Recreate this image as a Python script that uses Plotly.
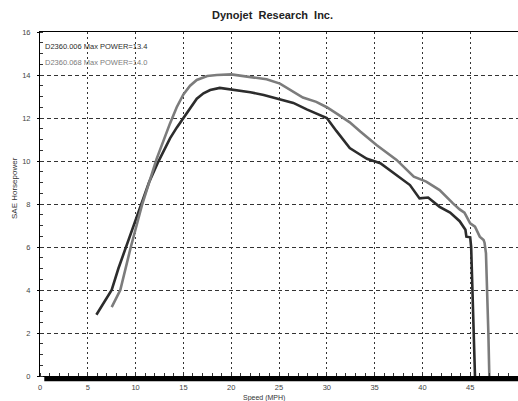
import plotly.graph_objects as go

# ---- data ----
run_names = ["D2360.006", "D2360.068"]
max_power = [13.4, 14.0]

speed_006 = [5.9, 6.7, 7.5, 8.2, 9.0, 9.8, 10.6, 11.4, 12.3, 13.0, 13.6, 14.3, 15.0, 15.7, 16.4,
             17.1, 17.8, 18.8, 20.0, 21.0, 22.0, 23.4, 25.1, 26.5, 27.9, 28.9, 30.0, 31.0, 32.4,
             33.3, 34.2, 35.6, 37.0, 38.7, 39.7, 40.6, 41.8, 42.9, 43.9, 44.5, 44.6, 45.0, 45.1,
             45.2, 45.3, 45.4, 45.5]
hp_006 = [2.85, 3.4, 4.0, 5.0, 6.0, 7.0, 8.0, 9.0, 9.9, 10.55, 11.05, 11.55, 12.0, 12.5, 12.9,
          13.15, 13.3, 13.4, 13.33, 13.27, 13.2, 13.07, 12.85, 12.7, 12.4, 12.2, 12.0, 11.4, 10.6,
          10.35, 10.1, 9.9, 9.42, 8.88, 8.26, 8.3, 7.87, 7.6, 7.2, 6.8, 6.48, 6.45, 6.0,
          4.6, 3.07, 1.2, 0.0]

speed_068 = [7.5, 8.4, 9.5, 10.7, 12.2, 12.9, 13.6, 14.3, 15.0, 15.7, 16.4, 17.5, 18.5, 20.0,
             21.0, 22.0, 23.7, 25.1, 26.5, 27.5, 28.9, 30.0, 31.4, 32.4, 33.5, 35.2, 37.3, 39.1,
             40.4, 41.8, 43.2, 43.9, 44.4, 45.0, 45.5, 46.0, 46.4, 46.5, 46.65, 46.8, 46.9, 47.0]
hp_068 = [3.2, 4.0, 6.0, 8.0, 10.1, 10.95, 11.75, 12.5, 13.1, 13.5, 13.77, 13.95, 14.0, 14.03,
          13.97, 13.9, 13.8, 13.6, 13.2, 12.95, 12.75, 12.5, 12.1, 11.8, 11.37, 10.74, 10.05, 9.27,
          9.04, 8.65, 8.03, 7.75, 7.6, 7.1, 6.95, 6.48, 6.33, 6.2, 5.7, 3.7, 2.0, 0.0]

x_ticks = [0, 5, 10, 15, 20, 25, 30, 35, 40, 45, 50]
y_ticks = [0, 2, 4, 6, 8, 10, 12, 14, 16]

dark = "#2c2c2c"
gray = "#7c7c7c"
font = "Liberation Sans"

fig = go.Figure()
fig.add_trace(go.Scatter(x=speed_006, y=hp_006, mode="lines", name=run_names[0],
                         line=dict(color=dark, width=2.6), showlegend=False))
fig.add_trace(go.Scatter(x=speed_068, y=hp_068, mode="lines", name=run_names[1],
                         line=dict(color=gray, width=2.6), showlegend=False))

fig.update_layout(
    width=518, height=401,
    margin=dict(l=40, r=0, t=32, b=25, autoexpand=False),
    paper_bgcolor="white", plot_bgcolor="white",
    font=dict(family=font, size=8, color="#333"),
    showlegend=False,
)

fig.update_xaxes(
    range=[0, 50], tickvals=x_ticks, ticktext=[str(v) for v in x_ticks],
    showline=True, linecolor="black", linewidth=1, mirror=True,
    showgrid=True, gridcolor="#333", griddash="2px,3px", gridwidth=1,
    ticks="", ticklabelstandoff=4, zeroline=False, automargin=False,
    minor=dict(dtick=1, ticks="inside", ticklen=3, tickcolor="#333", showgrid=False),
    tickfont=dict(size=7.5, color="#444"),
)
fig.update_yaxes(
    range=[0, 16], tickvals=y_ticks, ticktext=[str(v) for v in y_ticks],
    showline=True, linecolor="black", linewidth=1,
    showgrid=True, gridcolor="#333", griddash="4px,3px", gridwidth=1,
    ticks="outside", ticklen=2, tickcolor="black", ticklabelstandoff=5,
    zeroline=False, automargin=False,
    minor=dict(dtick=0.5, ticks="inside", ticklen=3, tickcolor="#333", showgrid=False),
    tickfont=dict(size=7.5, color="#444"),
)

# thick run bar under the axis
fig.add_shape(type="rect", xref="paper", yref="paper",
              x0=0.45 / 50, x1=1.0, y0=-0.003, y1=-0.015,
              fillcolor="black", line=dict(width=0))

annotations = [
    dict(text="<b>Dynojet  Research  Inc.</b>", xref="paper", yref="paper",
         x=(272 - 40) / 478, y=1 + (32 - 15) / 344, xanchor="center", yanchor="middle",
         showarrow=False, font=dict(family=font, size=11, color="#222")),
    dict(text="Speed (MPH)", xref="paper", yref="paper",
         x=(264 - 40) / 478, y=-(398 - 376) / 344, xanchor="center", yanchor="middle",
         showarrow=False, font=dict(family=font, size=7, color="#333")),
    dict(text="SAE Horsepower", xref="paper", yref="paper", textangle=-90,
         x=-(40 - 14) / 478, y=(376 - 188) / 344, xanchor="center", yanchor="middle",
         showarrow=False, font=dict(family=font, size=8, color="#333")),
]
for i, (name, mp, col) in enumerate(zip(run_names, max_power, [dark, gray])):
    annotations.append(dict(
        text=f"{name} Max POWER={mp:.1f}", xref="paper", yref="paper",
        x=(43 - 40) / 478, y=(376 - (47 + 15 * i)) / 344, xanchor="left", yanchor="middle",
        showarrow=False, font=dict(family=font, size=7.5, color=col)))
fig.update_layout(annotations=annotations)

fig.write_html("out.html", config={"displayModeBar": False},
               post_script="document.body.style.margin='0';document.body.style.overflow='hidden';")
